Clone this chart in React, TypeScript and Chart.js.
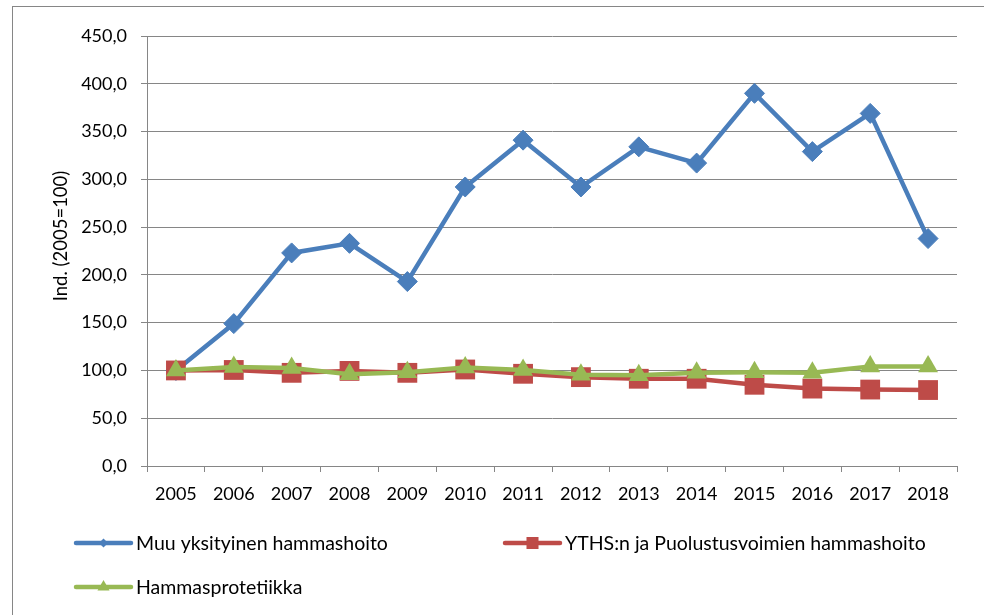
import React, { useEffect, useRef } from 'react';
import { Chart, registerables } from 'chart.js';

Chart.register(...registerables);

const years = ['2005', '2006', '2007', '2008', '2009', '2010', '2011', '2012', '2013', '2014', '2015', '2016', '2017', '2018'];
const muuYksityinen = [100, 149, 223, 233, 193, 292, 341, 292, 334, 317, 390, 329, 369, 238];
const ythsPuolustus = [100, 100.5, 97.5, 99.5, 97.5, 101, 96.5, 93, 91.3, 91.3, 85, 81, 80, 79.5];
const protetiikka = [100, 103.5, 102.5, 96, 98, 103, 100.5, 95.5, 95, 97.5, 98, 97.5, 104, 104];
const seriesNames = ['Muu yksityinen hammashoito', 'YTHS:n ja Puolustusvoimien hammashoito', 'Hammasprotetiikka'];
const yAxisTitle = 'Ind. (2005=100)';
const yMin = 0;
const yMax = 450;
const yStep = 50;

const BLUE = '#4A7EBB';
const RED = '#BE4B48';
const GREEN = '#98B954';
const GRID = '#868686';
const FONT = 'Lato';

function markerPath(ctx: CanvasRenderingContext2D, style: string, x: number, y: number, r: number) {
  ctx.beginPath();
  if (style === 'rectRot') {
    ctx.moveTo(x, y - r);
    ctx.lineTo(x + r, y);
    ctx.lineTo(x, y + r);
    ctx.lineTo(x - r, y);
  } else if (style === 'rect') {
    const s = r * Math.SQRT1_2;
    ctx.rect(x - s, y - s, 2 * s, 2 * s);
  } else {
    const a = (2 * Math.PI) / 3;
    ctx.moveTo(x, y - r);
    ctx.lineTo(x + Math.sin(a) * r, y - Math.cos(a) * r);
    ctx.lineTo(x + Math.sin(2 * a) * r, y - Math.cos(2 * a) * r);
  }
  ctx.closePath();
  ctx.fill();
}

const customPlugin = {
  id: 'customLegendAndTitle',
  afterDraw(chart: any) {
    const ctx: CanvasRenderingContext2D = chart.ctx;
    const area = chart.chartArea;
    ctx.save();
    // y-axis title
    ctx.translate(61, (area.top + area.bottom) / 2 - 15);
    ctx.rotate(-Math.PI / 2);
    ctx.fillStyle = '#000';
    ctx.font = `18.5px ${FONT}`;
    ctx.textAlign = 'center';
    ctx.textBaseline = 'middle';
    ctx.fillText(yAxisTitle, 0, 0);
    ctx.restore();

    const items = [
      { label: seriesNames[0], color: BLUE, style: 'rectRot', x: 76, y: 543, r: 4.5 },
      { label: seriesNames[1], color: RED, style: 'rect', x: 505, y: 543, r: 8.5 },
      { label: seriesNames[2], color: GREEN, style: 'triangle', x: 76, y: 587, r: 7 },
    ];
    ctx.save();
    ctx.font = `19.5px ${FONT}`;
    ctx.textBaseline = 'middle';
    ctx.textAlign = 'left';
    for (const it of items) {
      ctx.strokeStyle = it.color;
      ctx.lineWidth = 4.5;
      ctx.lineCap = 'round';
      ctx.beginPath();
      ctx.moveTo(it.x, it.y);
      ctx.lineTo(it.x + 55, it.y);
      ctx.stroke();
      ctx.fillStyle = it.color;
      markerPath(ctx, it.style, it.x + 27.5, it.y, it.r);
      ctx.fillStyle = '#000';
      ctx.fillText(it.label, it.x + 60, it.y + 1);
    }
    ctx.restore();
  },
};

export default function App() {
  const ref = useRef<HTMLCanvasElement | null>(null);

  useEffect(() => {
    if (!ref.current) return;
    Chart.defaults.font.family = FONT;
    const chart = new Chart(ref.current, {
      type: 'line',
      data: {
        labels: years,
        datasets: [
          {
            label: seriesNames[0],
            data: muuYksityinen,
            borderColor: BLUE,
            backgroundColor: BLUE,
            borderWidth: 4.5,
            pointStyle: 'rectRot',
            pointRadius: 10,
            pointBorderWidth: 1,
            pointBorderColor: BLUE,
            pointBackgroundColor: BLUE,
            tension: 0,
            order: 2,
          },
          {
            label: seriesNames[1],
            data: ythsPuolustus,
            borderColor: RED,
            backgroundColor: RED,
            borderWidth: 4.5,
            pointStyle: 'rect',
            pointRadius: 14,
            pointBorderWidth: 0,
            pointBackgroundColor: RED,
            tension: 0,
            order: 1,
          },
          {
            label: seriesNames[2],
            data: protetiikka,
            borderColor: GREEN,
            backgroundColor: GREEN,
            borderWidth: 4.5,
            pointStyle: 'triangle',
            pointRadius: 11.5,
            pointBorderWidth: 0,
            pointBackgroundColor: GREEN,
            tension: 0,
            order: 0,
          },
        ],
      },
      options: {
        responsive: false,
        animation: false,
        layout: { padding: { left: 0, top: 36, right: 27, bottom: 109 } },
        plugins: {
          legend: { display: false },
          tooltip: { enabled: false },
          title: { display: false },
        },
        scales: {
          x: {
            type: 'category',
            offset: true,
            grid: {
              display: true,
              drawOnChartArea: false,
              drawTicks: true,
              offset: true,
              tickLength: 6,
              color: GRID,
            },
            border: { display: true, color: GRID, width: 1 },
            ticks: { color: '#000', font: { size: 18, family: FONT }, padding: 11, maxRotation: 0, autoSkip: false },
            afterFit: (scale: any) => {
              scale.height = 40;
            },
          },
          y: {
            min: yMin,
            max: yMax,
            grid: { color: GRID, tickLength: 6, drawTicks: true },
            border: { display: true, color: GRID, width: 1 },
            ticks: {
              stepSize: yStep,
              color: '#000',
              font: { size: 18, family: FONT },
              padding: 14,
              callback: (v: any) => Number(v).toFixed(1).replace('.', ','),
            },
            afterFit: (scale: any) => {
              scale.width = 147;
            },
          },
        },
      },
      plugins: [customPlugin],
    });
    return () => chart.destroy();
  }, []);

  return (
    <div style={{ position: 'fixed', left: 0, top: 0, width: 984, height: 615, background: '#fff', overflow: 'hidden' }}>
      <div
        style={{
          position: 'absolute',
          left: 12,
          top: 6,
          width: 1000,
          height: 700,
          border: `1px solid ${GRID}`,
          boxSizing: 'border-box',
        }}
      />
      <canvas ref={ref} width={984} height={615} style={{ position: 'absolute', left: 0, top: 0, display: 'block' }} />
    </div>
  );
}
